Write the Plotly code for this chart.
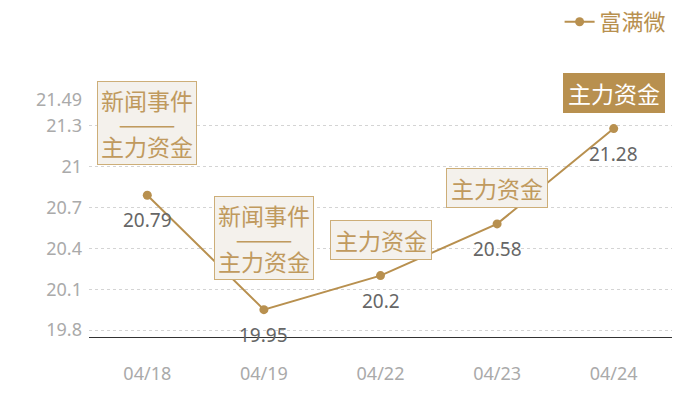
import plotly.graph_objects as go

dates = ["04/18", "04/19", "04/22", "04/23", "04/24"]
prices = [20.79, 19.95, 20.2, 20.58, 21.28]
events = [
    ["新闻事件", "主力资金"],
    ["新闻事件", "主力资金"],
    ["主力资金"],
    ["主力资金"],
    ["主力资金"],
]
y_ticks = [19.8, 20.1, 20.4, 20.7, 21, 21.3, 21.49]
series_name = "富满微"

GOLD = "#b8904f"
FONT = "Noto Sans CJK SC"

fig = go.Figure()
fig.add_trace(
    go.Scatter(
        x=dates,
        y=prices,
        name=series_name,
        mode="lines+markers",
        line=dict(color=GOLD, width=2),
        marker=dict(color=GOLD, size=9),
        cliponaxis=False,
    )
)

for i, (d, p, ev) in enumerate(zip(dates, prices, events)):
    # value label under the point
    fig.add_annotation(
        x=d, y=p, text=str(p), showarrow=False,
        yanchor="top", yshift=-10,
        font=dict(family="Noto Sans", size=19, color="#666666"),
    )
    # event box above the point, last one highlighted
    last = i == len(dates) - 1
    two = len(ev) > 1
    lines = ev[:1] + ["———"] + ev[1:] if two else ev
    body = "<br>".join('<span style="font-size:23px">{}</span>'.format(s) for s in lines)
    fig.add_annotation(
        x=d,
        y=p,
        text=body,
        showarrow=False,
        yanchor="bottom",
        yshift=30 if two else 16,
        font=dict(family=FONT, size=17.5 if two else 18, color="#ffffff" if last else "#c09a5e"),
        bgcolor=GOLD if last else "#f4f1ec",
        bordercolor=GOLD if last else "#cdae78",
        borderwidth=1,
        borderpad=1 if two else 2,
        width=96,
    )

fig.update_xaxes(
    type="category",
    range=[-0.5, len(dates) - 0.5],
    showgrid=False,
    showline=True,
    linecolor="#333333",
    linewidth=1,
    ticks="",
    ticklabelstandoff=20,
    tickfont=dict(family="Noto Sans", size=18, color="#aaaaaa"),
    zeroline=False,
)
fig.update_yaxes(
    range=[19.749, 21.49],
    tickvals=y_ticks,
    ticktext=[str(t) for t in y_ticks],
    showgrid=True,
    gridcolor="#d4d4d4",
    griddash="dot",
    gridwidth=1,
    showline=False,
    zeroline=False,
    ticks="",
    ticklabelstandoff=6,
    tickfont=dict(family="Noto Sans", size=18, color="#aaaaaa"),
)
fig.update_layout(
    width=700,
    height=400,
    paper_bgcolor="white",
    plot_bgcolor="white",
    margin=dict(l=81, r=36, t=92, b=71, autoexpand=False),
    showlegend=True,
    legend=dict(
        xref="container",
        yref="container",
        x=0.948,
        y=0.965,
        xanchor="right",
        yanchor="middle",
        font=dict(family=FONT, size=22, color=GOLD),
        bgcolor="rgba(0,0,0,0)",
        itemwidth=30,
    ),
)

fig.write_html("out.html")
